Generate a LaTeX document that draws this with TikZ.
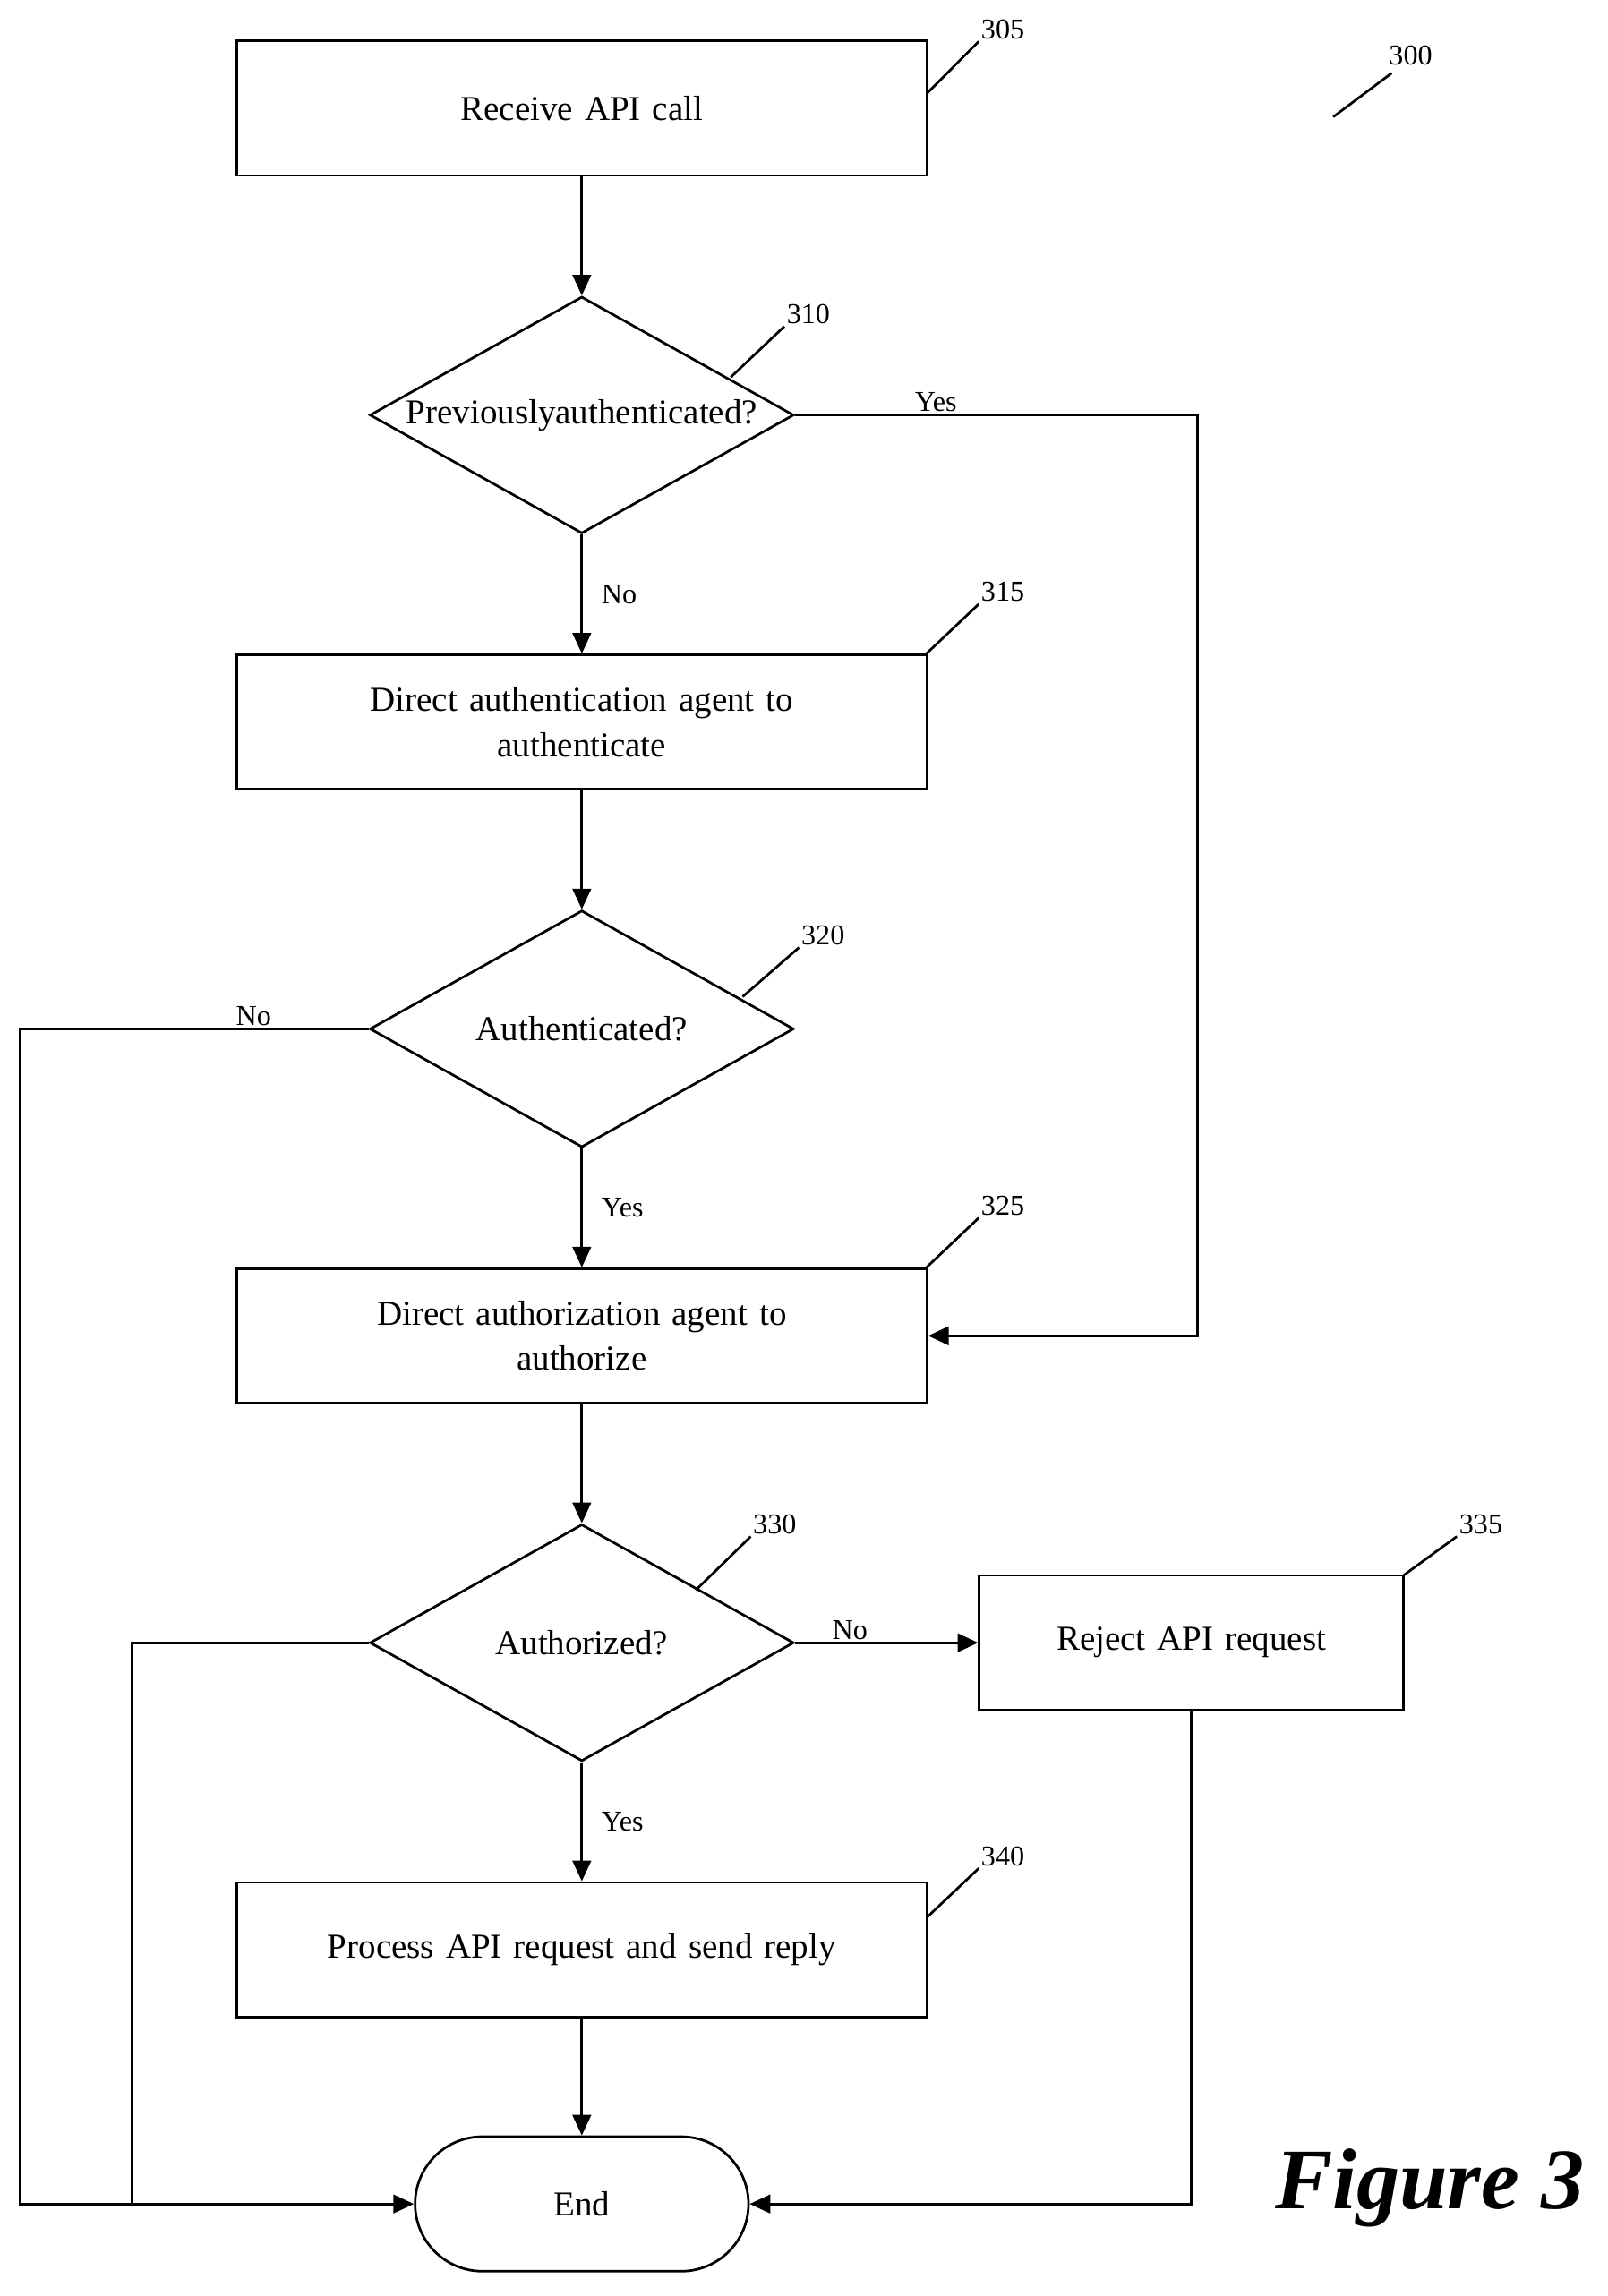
\documentclass[tikz,border=0pt]{standalone}
\usepackage{fontspec}
\setmainfont{Liberation Serif}
\usetikzlibrary{arrows.meta, positioning, shapes.geometric}

\begin{document}
\begin{tikzpicture}[
    x=0.025cm, y=-0.025cm,
    action/.style={rectangle, draw=black, line width=1.2pt, minimum height=2.3cm,
                 minimum width=11.8cm, text centered, text width=11cm, font=\fontsize{17}{22}\selectfont},
    small action/.style={action, minimum width=7.25cm, text width=6.8cm},
    test/.style={diamond, draw=black, line width=1.2pt, inner sep=0pt, aspect=1.79,
                 minimum width=7.25cm, minimum height=4.05cm, text centered,
                 font=\fontsize{17}{22}\selectfont},
    finish/.style={rectangle, rounded corners=1.15cm, draw=black, line width=1.2pt,
                   minimum width=5.7cm, minimum height=2.3cm, font=\fontsize{17}{22}\selectfont},
    ref/.style={font=\fontsize{14}{16}\selectfont, inner sep=1pt},
    tag/.style={font=\fontsize{14}{16}\selectfont, inner sep=1pt},
    relation/.style={-{Triangle[length=10pt, width=9pt]}, line width=1.2pt},
    plain/.style={line width=1.2pt},
    leader/.style={line width=1.2pt}
]
\useasboundingbox (0,0) rectangle (1100,1571);

% Steps
\node[action] (receive) at (398,74) {Receive API call};
\node[test] (prevAuth) at (398,284) {Previously\\authenticated?};
\node[action] (authenticate) at (398,494) {Direct authentication agent to\\authenticate};
\node[test] (isAuth) at (398,704) {Authenticated?};
\node[action] (authorize) at (398,914) {Direct authorization agent to\\authorize};
\node[test] (isAuthz) at (398,1124) {Authorized?};
\node[small action] (reject) at (815,1124) {Reject API request};
\node[action] (process) at (398,1334) {Process API request and send reply};
\node[finish] (end) at (398,1508) {End};

% Corner points
\coordinate (yesCorner) at (819,284);
\coordinate (noCorner) at (14,704);
\coordinate (noBottom) at (14,1508);
\coordinate (zCorner) at (90,1124);
\coordinate (zBottom) at (90,1508);
\coordinate (rejectBottom) at (815,1508);

% Relations
\draw[relation] (receive) -- (prevAuth);
\draw[relation] (prevAuth) -- node[tag, right=8pt] {No} (authenticate);
\draw[relation] (prevAuth.east) -- node[tag, above, pos=0.35] {Yes} (yesCorner) |- (authorize.east);
\draw[relation] (authenticate) -- (isAuth);
\draw[relation] (isAuth) -- node[tag, right=8pt] {Yes} (authorize);
\draw[relation] (isAuth.west) -- node[tag, above, pos=0.33] {No} (noCorner) -- (noBottom) -- (end.west);
\draw[relation] (authorize) -- (isAuthz);
\draw[relation] (isAuthz) -- node[tag, above, pos=0.3] {No} (reject);
\draw[relation] (isAuthz) -- node[tag, right=8pt] {Yes} (process);
\draw[plain] (isAuthz.west) -- (zCorner) -- (zBottom);
\draw[relation] (process) -- (end);
\draw[relation] (reject.south) -- (rejectBottom) -- (end.east);

% Reference numbers
\node[ref] (r300) at (965,38) {300};
\node[ref] (r305) at (686,20) {305};
\node[ref] (r310) at (553,215) {310};
\node[ref] (r315) at (686,405) {315};
\node[ref] (r320) at (563,640) {320};
\node[ref] (r325) at (686,825) {325};
\node[ref] (r330) at (530,1043) {330};
\node[ref] (r335) at (1013,1043) {335};
\node[ref] (r340) at (686,1270) {340};
\draw[leader] (912,80) -- (952,50);
\draw[leader] (634,64) -- (r305.south west);
\draw[leader] (500,258) -- (r310.south west);
\draw[leader] (634,447) -- (r315.south west);
\draw[leader] (508,682) -- (r320.south west);
\draw[leader] (634,867) -- (r325.south west);
\draw[leader] (476,1088) -- (r330.south west);
\draw[leader] (960,1078) -- (r335.south west);
\draw[leader] (634,1312) -- (r340.south west);

\node[font=\fontsize{42}{48}\selectfont\bfseries\itshape] (figLabel) at (978,1497) {Figure 3};
\end{tikzpicture}
\end{document}
